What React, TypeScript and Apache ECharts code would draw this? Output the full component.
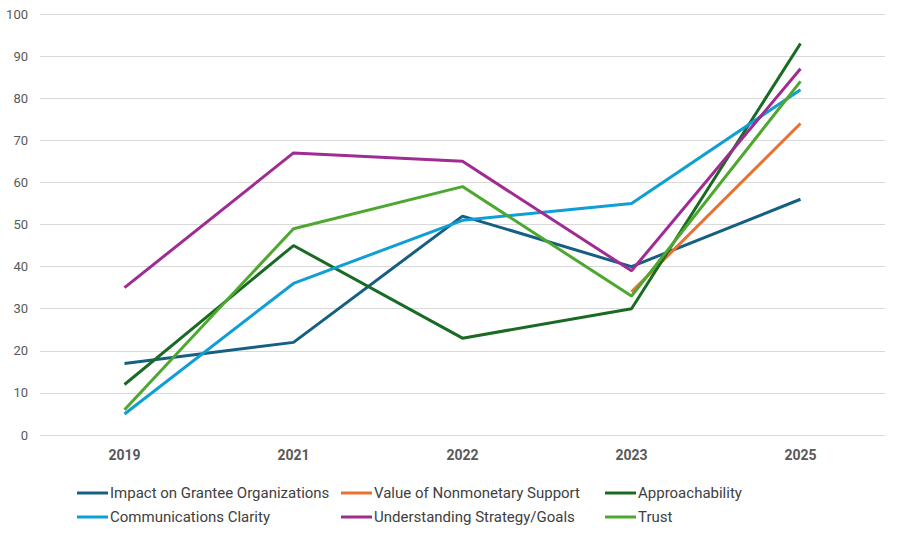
import React, { useEffect, useRef } from "react";
import * as echarts from "echarts";

const years = ["2019", "2021", "2022", "2023", "2025"];
const impact = [17, 22, 52, 40, 56];
const nonmonetary = [null, null, null, 34, 74];
const approachability = [12, 45, 23, 30, 93];
const communications = [5, 36, 51, 55, 82];
const understanding = [35, 67, 65, 39, 87];
const trust = [6, 49, 59, 33, 84];

const names = [
  "Impact on Grantee Organizations",
  "Value of Nonmonetary Support",
  "Approachability",
  "Communications Clarity",
  "Understanding Strategy/Goals",
  "Trust",
];
const colors = ["#156082", "#E97132", "#196B24", "#0F9ED5", "#A02B93", "#4EA72E"];
const seriesData = [impact, nonmonetary, approachability, communications, understanding, trust];

const FONT = "Roboto, sans-serif";

export default function App() {
  const ref = useRef<HTMLDivElement>(null);
  useEffect(() => {
    if (!ref.current) return;
    const chart = echarts.init(ref.current, undefined, { renderer: "svg" });
    const legendBase = {
      orient: "vertical" as const,
      top: 485.5,
      itemWidth: 31,
      itemHeight: 3,
      itemGap: 9,
      icon: "rect",
      padding: 0,
      textStyle: {
        fontFamily: FONT,
        fontSize: 15,
        color: "#404040",
        padding: [0, 0, 0, -3],
      },
    };
    chart.setOption({
      animation: false,
      color: colors,
      grid: { left: 40, right: 15, top: 14, bottom: 101 },
      legend: [
        { ...legendBase, left: 77, data: [names[0], names[3]] },
        { ...legendBase, left: 341, data: [names[1], names[4]] },
        { ...legendBase, left: 605, data: [names[2], names[5]] },
      ],
      xAxis: {
        type: "category",
        data: years,
        boundaryGap: true,
        axisLine: { show: false },
        axisTick: { show: false },
        axisLabel: {
          fontFamily: FONT,
          fontSize: 14,
          fontWeight: "bold",
          color: "#595959",
          margin: 13,
        },
      },
      yAxis: {
        type: "value",
        min: 0,
        max: 100,
        interval: 10,
        axisLine: { show: false },
        axisTick: { show: false },
        splitLine: { lineStyle: { color: "#d9d9d9", width: 1 } },
        axisLabel: { fontFamily: FONT, fontSize: 13, color: "#595959", margin: 12 },
      },
      series: names.map((n, i) => ({
        name: n,
        type: "line",
        data: seriesData[i],
        showSymbol: false,
        symbol: "none",
        lineStyle: { width: 3, color: colors[i] },
        itemStyle: { color: colors[i] },
        connectNulls: false,
      })),
    });
    return () => chart.dispose();
  }, []);
  return <div ref={ref} style={{ width: 900, height: 536, position: "absolute", left: 0, top: 0 }} />;
}
